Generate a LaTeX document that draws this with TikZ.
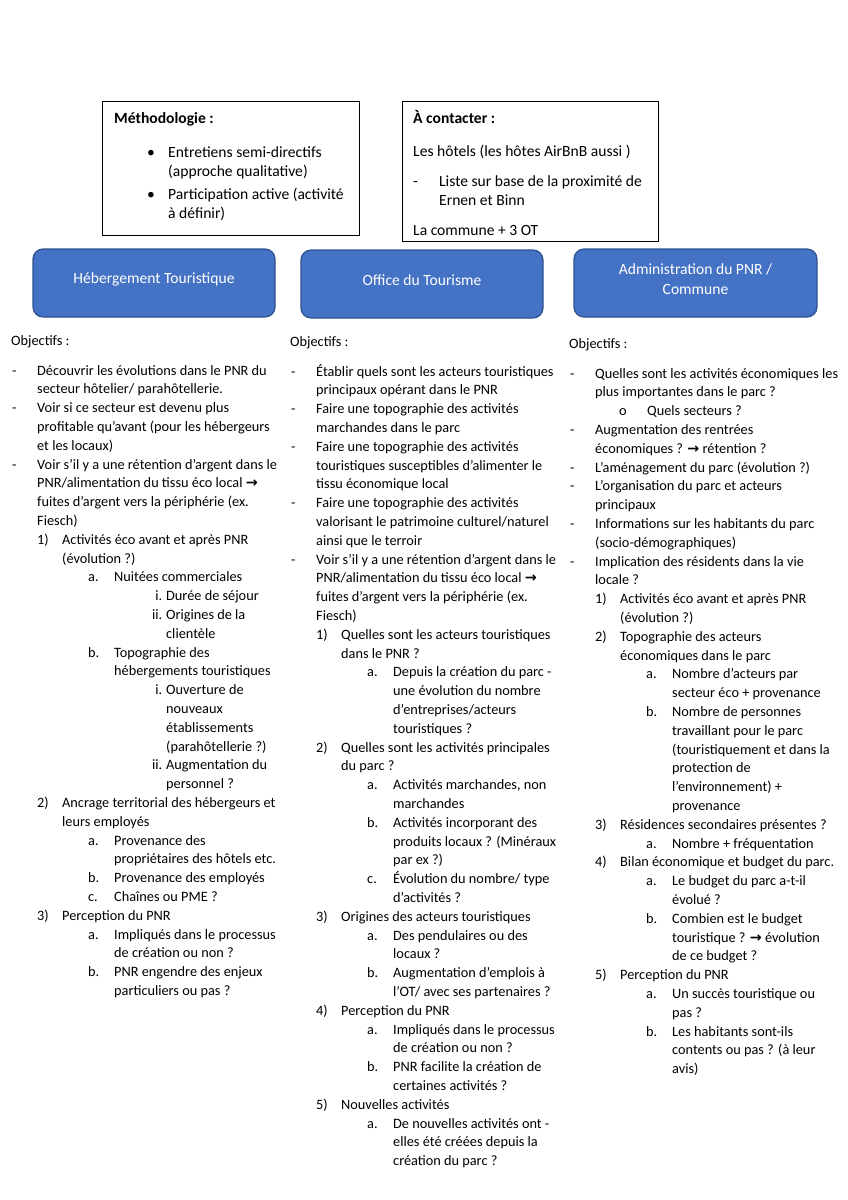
\documentclass[tikz,border=0pt]{standalone}
\usepackage{fontspec}
\setmainfont{Carlito}
\newfontfamily\symf{DejaVu Sans}
\usetikzlibrary{calc}
\definecolor{pblue}{HTML}{4472C4}
\definecolor{pblueb}{HTML}{2F528F}
\newcommand\arr{{\symf\bfseries\char"2192}}
\newcommand\colsize{\fontsize{14.3pt}{18.8pt}\selectfont}
\newcommand\boxsize{\fontsize{15.6pt}{19pt}\selectfont}
\newcommand\Lt[2]{\hbox{\hspace*{#1pt}#2}}
\newcommand\Lm[4]{\hbox{\rlap{\hspace*{#1pt}#2}\hspace*{#3pt}#4}}
\newcommand\Lr[4]{\hbox{\rlap{\hspace*{#1pt}\llap{#2}}\hspace*{#3pt}#4}}
\newcommand\cD[1]{\Lm{1}{-}{26}{#1}}
\newcommand\cDc[1]{\Lt{26}{#1}}
\newcommand\cN[2]{\Lm{26}{#1}{51}{#2}}
\newcommand\cNc[1]{\Lt{51}{#1}}
\newcommand\cA[2]{\Lm{77}{#1}{103}{#2}}
\newcommand\cAc[1]{\Lt{103}{#1}}
\newcommand\cR[2]{\Lr{151}{#1}{155}{#2}}
\newcommand\cRc[1]{\Lt{155}{#1}}
\newcommand\cO[1]{\Lm{50}{o}{78}{#1}}
\newcommand\colstart{\baselineskip=18.8pt\lineskiplimit=-50pt\lineskip=0pt}
\tikzset{
  infobox/.style={draw=black, line width=0.9pt, inner sep=0pt},
  headbox/.style={draw=pblueb, line width=1.2pt, fill=pblue, rounded corners=10pt, inner sep=0pt, minimum height=68pt},
  headtxt/.style={text=white, font=\boxsize, align=center, inner sep=0pt},
  coltxt/.style={anchor=base west, inner sep=0pt, font=\colsize},
  boxtxt/.style={anchor=base west, inner sep=0pt, font=\boxsize}
}
\begin{document}
\begin{tikzpicture}[x=1pt,y=-1pt]
\fill[white] (0,0) rectangle (848,1200);
\useasboundingbox (0,0) rectangle (848,1200);

% top boxes
\node[infobox, minimum width=257pt, minimum height=134pt] (meth) at (230.5,168) {};
\node[infobox, minimum width=256pt, minimum height=140pt] (cont) at (530,171) {};
\node[boxtxt] (methtxt) at (114,123) {\vtop{\baselineskip=19pt\lineskiplimit=-50pt\lineskip=0pt
\hbox{\bfseries Méthodologie :}\vskip15pt
\hbox{\rlap{\hspace*{33pt}\textbullet}\hspace*{54pt}Entretiens semi-directifs}
\hbox{\hspace*{54pt}(approche qualitative)}\vskip4pt
\hbox{\rlap{\hspace*{33pt}\textbullet}\hspace*{54pt}Participation active (activité}
\hbox{\hspace*{54pt}à définir)}}};
\node[boxtxt] (conttxt) at (413,123) {\vtop{\baselineskip=19pt\lineskiplimit=-50pt\lineskip=0pt
\hbox{\bfseries À contacter :}\vskip14pt
\hbox{Les hôtels (les hôtes AirBnB aussi )}\vskip11pt
\hbox{\rlap{-}\hspace*{26pt}Liste sur base de la proximité de}
\hbox{\hspace*{26pt}Ernen et Binn}\vskip11pt
\hbox{La commune + 3 OT}}};

% header boxes
\node[headbox, minimum width=242pt] (heb) at (154,283) {};
\node[headbox, minimum width=242pt] (ot) at (422,284) {};
\node[headbox, minimum width=243pt] (adm) at (695.5,283) {};
\node[headtxt] (hebt) at ($(heb.center)+(0,-4)$) {Hébergement Touristique};
\node[headtxt] (ott) at ($(ot.center)+(0,-4)$) {Office du Tourisme};
\node[headtxt] (admt) at ($(adm.center)+(0,-4)$) {Administration du PNR /\\[1pt]Commune};

% left column
\node[coltxt] (colA) at (11,345) {\vtop{\colstart
\hbox{Objectifs :}\vskip11.2pt
\cD{Découvrir les évolutions dans le PNR du}
\cDc{secteur hôtelier/ parahôtellerie.}
\cD{Voir si ce secteur est devenu plus}
\cDc{profitable qu’avant (pour les hébergeurs}
\cDc{et les locaux)}
\cD{Voir s’il y a une rétention d’argent dans le}
\cDc{PNR/alimentation du tissu éco local \arr}
\cDc{fuites d’argent vers la périphérie (ex.}
\cDc{Fiesch)}
\cN{1)}{Activités éco avant et après PNR}
\cNc{(évolution ?)}
\cA{a.}{Nuitées commerciales}
\cR{i.}{Durée de séjour}
\cR{ii.}{Origines de la}
\cRc{clientèle}
\cA{b.}{Topographie des}
\cAc{hébergements touristiques}
\cR{i.}{Ouverture de}
\cRc{nouveaux}
\cRc{établissements}
\cRc{(parahôtellerie ?)}
\cR{ii.}{Augmentation du}
\cRc{personnel ?}
\cN{2)}{Ancrage territorial des hébergeurs et}
\cNc{leurs employés}
\cA{a.}{Provenance des}
\cAc{propriétaires des hôtels etc.}
\cA{b.}{Provenance des employés}
\cA{c.}{Chaînes ou PME ?}
\cN{3)}{Perception du PNR}
\cA{a.}{Impliqués dans le processus}
\cAc{de création ou non ?}
\cA{b.}{PNR engendre des enjeux}
\cAc{particuliers ou pas ?}
}};

% middle column
\node[coltxt] (colB) at (290,346) {\vtop{\colstart
\hbox{Objectifs :}\vskip11.2pt
\cD{Établir quels sont les acteurs touristiques}
\cDc{principaux opérant dans le PNR}
\cD{Faire une topographie des activités}
\cDc{marchandes dans le parc}
\cD{Faire une topographie des activités}
\cDc{touristiques susceptibles d’alimenter le}
\cDc{tissu économique local}
\cD{Faire une topographie des activités}
\cDc{valorisant le patrimoine culturel/naturel}
\cDc{ainsi que le terroir}
\cD{Voir s’il y a une rétention d’argent dans le}
\cDc{PNR/alimentation du tissu éco local \arr}
\cDc{fuites d’argent vers la périphérie (ex.}
\cDc{Fiesch)}
\cN{1)}{Quelles sont les acteurs touristiques}
\cNc{dans le PNR ?}
\cA{a.}{Depuis la création du parc -}
\cAc{une évolution du nombre}
\cAc{d’entreprises/acteurs}
\cAc{touristiques ?}
\cN{2)}{Quelles sont les activités principales}
\cNc{du parc ?}
\cA{a.}{Activités marchandes, non}
\cAc{marchandes}
\cA{b.}{Activités incorporant des}
\cAc{produits locaux ? (Minéraux}
\cAc{par ex ?)}
\cA{c.}{Évolution du nombre/ type}
\cAc{d’activités ?}
\cN{3)}{Origines des acteurs touristiques}
\cA{a.}{Des pendulaires ou des}
\cAc{locaux ?}
\cA{b.}{Augmentation d’emplois à}
\cAc{l’OT/ avec ses partenaires ?}
\cN{4)}{Perception du PNR}
\cA{a.}{Impliqués dans le processus}
\cAc{de création ou non ?}
\cA{b.}{PNR facilite la création de}
\cAc{certaines activités ?}
\cN{5)}{Nouvelles activités}
\cA{a.}{De nouvelles activités ont -}
\cAc{elles été créées depuis la}
\cAc{création du parc ?}
}};

% right column
\node[coltxt] (colC) at (569,348) {\vtop{\colstart
\hbox{Objectifs :}\vskip11.2pt
\cD{Quelles sont les activités économiques les}
\cDc{plus importantes dans le parc ?}
\cO{Quels secteurs ?}
\cD{Augmentation des rentrées}
\cDc{économiques ? \arr{} rétention ?}
\cD{L’aménagement du parc (évolution ?)}
\cD{L’organisation du parc et acteurs}
\cDc{principaux}
\cD{Informations sur les habitants du parc}
\cDc{(socio-démographiques)}
\cD{Implication des résidents dans la vie}
\cDc{locale ?}
\cN{1)}{Activités éco avant et après PNR}
\cNc{(évolution ?)}
\cN{2)}{Topographie des acteurs}
\cNc{économiques dans le parc}
\cA{a.}{Nombre d’acteurs par}
\cAc{secteur éco + provenance}
\cA{b.}{Nombre de personnes}
\cAc{travaillant pour le parc}
\cAc{(touristiquement et dans la}
\cAc{protection de}
\cAc{l’environnement) +}
\cAc{provenance}
\cN{3)}{Résidences secondaires présentes ?}
\cA{a.}{Nombre + fréquentation}
\cN{4)}{Bilan économique et budget du parc.}
\cA{a.}{Le budget du parc a-t-il}
\cAc{évolué ?}
\cA{b.}{Combien est le budget}
\cAc{touristique ? \arr{} évolution}
\cAc{de ce budget ?}
\cN{5)}{Perception du PNR}
\cA{a.}{Un succès touristique ou}
\cAc{pas ?}
\cA{b.}{Les habitants sont-ils}
\cAc{contents ou pas ? (à leur}
\cAc{avis)}
}};
\end{tikzpicture}
\end{document}
